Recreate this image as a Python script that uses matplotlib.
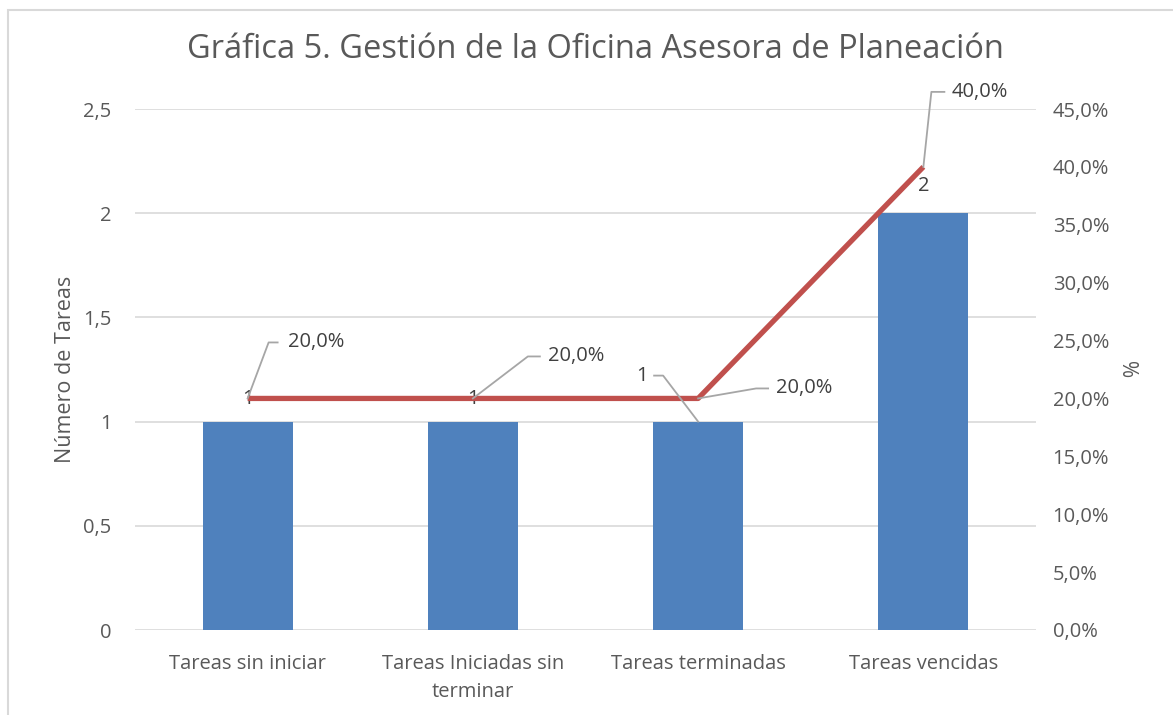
import matplotlib.pyplot as plt
from matplotlib.patches import Rectangle
from matplotlib.lines import Line2D
from matplotlib.transforms import IdentityTransform
from matplotlib.ticker import FuncFormatter, MultipleLocator
import numpy as np

plt.rcParams['font.family'] = ['Open Sans', 'DejaVu Sans']

categories = ['Tareas sin iniciar', 'Tareas Iniciadas sin\nterminar',
              'Tareas terminadas', 'Tareas vencidas']
tareas = [1, 1, 1, 2]
porcentaje = [0.20, 0.20, 0.20, 0.40]
title = 'Gráfica 5. Gestión de la Oficina Asesora de Planeación'

BLUE = '#4F81BD'
RED = '#C0504D'
TXT = '#595959'
LBL = '#404040'
GRID = '#D9D9D9'
LEADER = '#A6A6A6'

def comma(v, dec):
    return f'{v:.{dec}f}'.replace('.', ',')

fig = plt.figure(figsize=(11.73, 7.15), dpi=100)
# chart area border (Excel style)
fig.patches.append(Rectangle((8 / 1173, -0.05), 1.1, (705 + 36) / 715,
                             transform=fig.transFigure, fill=False,
                             edgecolor=GRID, lw=1.5))

ax = fig.add_axes([135 / 1173, 85 / 715, 901 / 1173, 521 / 715])
ax2 = ax.twinx()

x = np.arange(len(categories))
ax.bar(x, tareas, width=0.4, color=BLUE, zorder=2)
ax.set_xlim(-0.5, len(categories) - 0.5)
ax.set_ylim(0, 2.5)
ax.yaxis.set_major_locator(MultipleLocator(0.5))
ax.yaxis.set_major_formatter(FuncFormatter(
    lambda v, p: comma(v, 0) if v == int(v) else comma(v, 1)))
ax.grid(axis='y', color=GRID, lw=1.2, zorder=0)
ax.set_axisbelow(True)
ax.set_xticks(x)
ax.set_xticklabels(categories, fontsize=14.5, color=TXT, linespacing=1.55)
ax.tick_params(axis='x', length=0, pad=17)
ax.tick_params(axis='y', length=0, pad=17, labelsize=14.5, labelcolor=TXT)
ax.set_ylabel('Número de Tareas', fontsize=15.5, color=TXT, labelpad=5)

ax2.plot(x, porcentaje, color=RED, lw=3.8, zorder=3, solid_capstyle='butt')
ax2.set_ylim(0, 0.45)
ax2.yaxis.set_major_locator(MultipleLocator(0.05))
ax2.yaxis.set_major_formatter(FuncFormatter(lambda v, p: comma(v * 100, 1) + '%'))
ax2.tick_params(axis='y', length=0, pad=12, labelsize=14.5, labelcolor=TXT)
ax2.set_ylabel('%', fontsize=15, color=TXT, rotation=270, labelpad=20)

for a in (ax, ax2):
    for s in a.spines.values():
        s.set_visible(False)


def leader(axis, xv, yv, elbow, end):
    # leader line drawn in pixel offsets from the data point
    px, py = axis.transData.transform((xv, yv))
    xs = [px, px + elbow[0], px + end[0]]
    ys = [py, py + elbow[1], py + end[1]]
    fig.add_artist(Line2D(xs, ys, transform=IdentityTransform(),
                          color=LEADER, lw=1.3, zorder=4))


# percentage labels: (elbow, end of line, text position) in pixels
pct_leaders = [((21, 56), (30, 56), (40, 56)),
               ((55, 42), (67, 42), (75, 42)),
               ((58, 10), (70, 10), (78, 10)),
               ((8, 75), (21, 75), (28, 75))]
for xi, p, (elb, end, txt) in zip(x, porcentaje, pct_leaders):
    leader(ax2, xi, p, elb, end)
    ax2.annotate(comma(p * 100, 1) + '%', xy=(xi, p), xytext=txt,
                 textcoords='offset pixels', fontsize=14.5, color=LBL,
                 va='center', ha='left', zorder=5)

# bar value labels
bar_label_pos = [(0, 1.11), (1, 1.11), None, (3, 2.13)]
for xi, v, pos in zip(x, tareas, bar_label_pos):
    if pos is not None:
        ax.text(pos[0], pos[1], str(v), fontsize=14.5, color=LBL,
                ha='center', va='center', zorder=6)
leader(ax, 2, tareas[2], (-35, 46), (-44, 46))
ax.annotate(str(tareas[2]), xy=(2, tareas[2]), xytext=(-50, 46),
            textcoords='offset pixels', fontsize=14.5, color=LBL,
            ha='right', va='center', zorder=6)

fig.text(595 / 1173, 1 - 50 / 715, title, fontsize=23.5, color=TXT,
         ha='center', va='center')

fig.savefig('out.png', dpi=100)
